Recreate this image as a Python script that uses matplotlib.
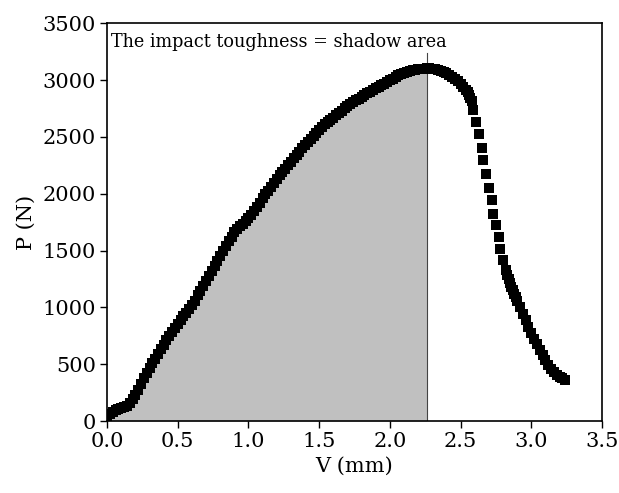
import matplotlib
matplotlib.use('Agg')
import matplotlib.pyplot as plt
import numpy as np

# Load-displacement readings (V in mm, P in N)
v_mm = [0.00, 0.02, 0.04, 0.06, 0.08, 0.10, 0.12, 0.14, 0.16, 0.18,
        0.20, 0.22, 0.24, 0.26, 0.28, 0.30, 0.32, 0.34, 0.36, 0.38,
        0.40, 0.42, 0.44, 0.46, 0.48, 0.50, 0.52, 0.54, 0.56, 0.58,
        0.60, 0.62, 0.64, 0.66, 0.68, 0.70, 0.72, 0.74, 0.76, 0.78,
        0.80, 0.82, 0.84, 0.86, 0.88, 0.90, 0.92, 0.94, 0.96, 0.98,
        1.00, 1.02, 1.04, 1.06, 1.08, 1.10, 1.12, 1.14, 1.16, 1.18,
        1.20, 1.22, 1.24, 1.26, 1.28, 1.30, 1.32, 1.34, 1.36, 1.38,
        1.40, 1.42, 1.44, 1.46, 1.48, 1.50, 1.52, 1.54, 1.56, 1.58,
        1.60, 1.62, 1.64, 1.66, 1.68, 1.70, 1.72, 1.74, 1.76, 1.78,
        1.80, 1.82, 1.84, 1.86, 1.88, 1.90, 1.92, 1.94, 1.96, 1.98,
        2.00, 2.02, 2.04, 2.06, 2.08, 2.10, 2.12, 2.14, 2.16, 2.18,
        2.20, 2.22, 2.24, 2.26, 2.28, 2.30, 2.32, 2.34, 2.36, 2.38,
        2.40, 2.42, 2.44, 2.46, 2.48, 2.50, 2.52, 2.54, 2.55, 2.56,
        2.57, 2.58,
        2.59, 2.61, 2.63, 2.65, 2.66, 2.68, 2.70, 2.72, 2.73, 2.75,
        2.77, 2.78, 2.80, 2.82,
        2.83, 2.84, 2.85, 2.86, 2.87, 2.88, 2.89, 2.90, 2.92, 2.94,
        2.96, 2.98, 3.00, 3.02, 3.04, 3.06, 3.08, 3.10, 3.12, 3.14,
        3.16, 3.18, 3.20, 3.22, 3.24]
p_n = [45, 62, 80, 95, 105, 112, 120, 132, 158, 192,
       232, 276, 325, 378, 426, 470, 510, 550, 590, 630,
       670, 710, 750, 785, 820, 855, 890, 920, 952, 985,
       1020, 1060, 1105, 1145, 1190, 1235, 1275, 1320, 1365, 1410,
       1455, 1500, 1540, 1582, 1622, 1660, 1690, 1712, 1733, 1756,
       1782, 1812, 1848, 1885, 1922, 1958, 1993, 2025, 2060, 2095,
       2125, 2160, 2190, 2220, 2250, 2280, 2310, 2340, 2370, 2400,
       2425, 2455, 2485, 2510, 2535, 2560, 2585, 2610, 2630, 2650,
       2670, 2690, 2710, 2730, 2750, 2770, 2787, 2803, 2820, 2837,
       2853, 2870, 2883, 2898, 2915, 2928, 2942, 2955, 2968, 2983,
       3000, 3013, 3027, 3040, 3050, 3060, 3070, 3077, 3084, 3090,
       3094, 3097, 3100, 3103, 3103, 3100, 3096, 3090, 3082, 3072,
       3060, 3045, 3028, 3010, 2990, 2967, 2942, 2915, 2895, 2870,
       2845, 2815,
       2733, 2630, 2522, 2405, 2293, 2170, 2053, 1940, 1825, 1722,
       1620, 1517, 1415, 1327,
       1288, 1250, 1215, 1180, 1150, 1120, 1090, 1060, 1004, 945,
       885, 830, 775, 725, 675, 624, 580, 535, 495, 460,
       430, 405, 389, 375, 365]

# displacement at which the integration stops
v_cut = 2.26
note = 'The impact toughness = shadow area'

plt.rcParams['font.family'] = ['DejaVu Serif']

fig = plt.figure(figsize=(6.19, 4.93), dpi=100)
ax = fig.add_axes([0.173, 0.146, 0.7995, 0.807])

v = np.array(v_mm)
p = np.array(p_n)
mask = v <= v_cut

# shaded area under the curve
ax.fill_between(v[mask], 0, p[mask], color='#c0c0c0', lw=0, zorder=1)
ax.plot([v_cut, v_cut], [0, 3240], color='#444444', lw=0.8, zorder=2)

# measured curve
ax.plot(v, p, ls='none', marker='s', ms=7.0, mew=0, color='black', zorder=3)

ax.text(0.03, 3290, note, fontsize=12.7, va='baseline', ha='left')

ax.set_xlim(0, 3.5)
ax.set_ylim(0, 3500)
ax.set_xticks(np.arange(0, 3.51, 0.5))
ax.set_yticks(np.arange(0, 3501, 500))
ax.set_xticklabels(['%.1f' % t for t in np.arange(0, 3.51, 0.5)])
ax.tick_params(direction='out', length=5, width=1, labelsize=15,
               top=False, right=False, pad=3)
for s in ax.spines.values():
    s.set_linewidth(1.2)

ax.set_xlabel('V (mm)', fontsize=15, labelpad=4)
ax.set_ylabel('P (N)', fontsize=15, labelpad=5)

fig.savefig('out.png', dpi=100)
